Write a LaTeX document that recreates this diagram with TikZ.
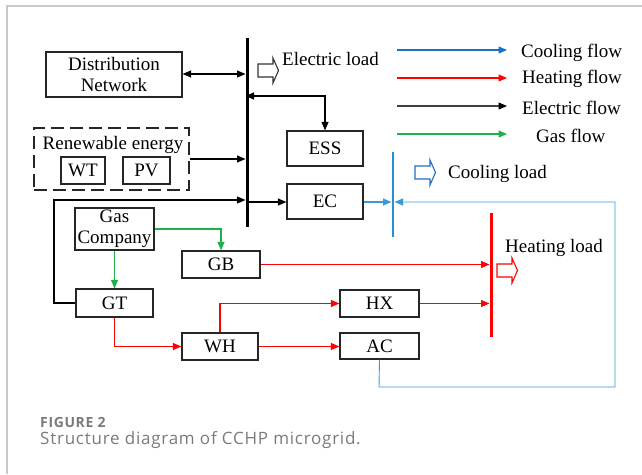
\documentclass[tikz,border=0pt]{standalone}
\usepackage{fontspec}
\setmainfont{Liberation Serif}
\newfontfamily\capfont[LetterSpace=4.5]{Open Sans}
\usetikzlibrary{arrows.meta}
\definecolor{cool}{HTML}{1B70C4}
\definecolor{coolbus}{HTML}{2490D8}
\definecolor{coolline}{HTML}{3A9AD9}
\definecolor{heat}{HTML}{FF0000}
\definecolor{gasc}{HTML}{1DB14B}
\definecolor{elec}{HTML}{404040}
\definecolor{capgray}{HTML}{7A7A7A}
\definecolor{framegray}{HTML}{C8C8C8}
\begin{document}
\begin{tikzpicture}[x=1pt,y=-1pt,
  txt/.style={font=\fontsize{19}{20.5}\selectfont},
  box/.style={draw=black!85, line width=1.2pt, inner sep=0pt, align=center, txt},
  lbl/.style={txt, inner sep=0pt, anchor=base west},
  arr/.style={-{Triangle[length=8.5pt,width=7pt]}, line width=1.1pt},
  dbl/.style={{Triangle[length=8.5pt,width=7pt]}-{Triangle[length=8.5pt,width=7pt]}, line width=1.1pt},
  loadarrow/.pic={\draw[line width=1.1pt] (0,-6.5) -- (15,-6.5) -- (15,-12.5) -- (20.5,0) -- (15,12.5) -- (15,6.5) -- (0,6.5) -- cycle;}
]
\useasboundingbox (0,0) rectangle (642,474);
\draw[framegray, line width=1.2pt] (7,474) -- (7,6) -- (642,6);

% boxes
\node[box, minimum width=136pt, minimum height=45pt] (dn) at (114,74.5) {Distribution\\Network};
\node[box, dash pattern=on 13pt off 6pt, minimum width=155pt, minimum height=62pt] (re) at (111.5,159) {};
\node[lbl, anchor=base] (retxt) at (113,149) {Renewable energy};
\node[box, minimum width=44pt, minimum height=27pt] (wt) at (83,170.5) {WT};
\node[box, minimum width=47pt, minimum height=27pt] (pv) at (146.5,170.5) {PV};
\node[box, minimum width=76pt, minimum height=35pt] (ess) at (325,148.5) {ESS};
\node[box, minimum width=76pt, minimum height=35pt] (ec) at (325,201.5) {EC};
\node[box, minimum width=79pt, minimum height=42pt] (gas) at (114.5,229) {Gas\\Company};
\node[box, minimum width=78pt, minimum height=27pt] (gb) at (221,264.5) {GB};
\node[box, minimum width=77pt, minimum height=28pt] (gt) at (114.5,303) {GT};
\node[box, minimum width=76pt, minimum height=27pt] (wh) at (220,346.5) {WH};
\node[box, minimum width=79pt, minimum height=27pt] (hx) at (379.5,303.5) {HX};
\node[box, minimum width=79pt, minimum height=26pt] (ac) at (379.5,346) {AC};

% buses
\draw[line width=3pt] (247,38) -- (247,227);
\draw[coolbus, line width=2.5pt] (393,152) -- (393,237);
\draw[heat, line width=3pt] (491,213) -- (491,337);
\coordinate (bdn) at (245.5,74);
\coordinate (bess) at (245.5,96);
\coordinate (bre) at (245.5,159);
\coordinate (bgt) at (245.5,200);
\coordinate (bec) at (248.5,202);
\coordinate (cec) at (391.5,202);
\coordinate (cac) at (394.5,202);
\coordinate (hgb) at (489.5,264.5);
\coordinate (hhx) at (489.5,303.5);

% electric connectors
\draw[dbl] (dn.east |- bdn) -- (bdn);
\draw[dbl] (bess) -| (ess.north);
\draw[arr] (re.east |- bre) -- (bre);
\draw[arr] (gt.west) -- (54,303) |- (bgt);
\draw[arr] (bec) -- (ec.west |- bec);

% gas
\draw[arr, color=gasc] (gas.east) -| (gb.north);
\draw[arr, color=gasc] (gas.south) -- (gt.north);

% heat
\draw[arr, color=heat] (gt.south) |- (wh.west);
\draw[arr, color=heat] (wh.north) |- (hx.west);
\draw[arr, color=heat] (wh.east) -- (ac.west |- wh.east);
\draw[arr, color=heat] (gb.east) -- (hgb);
\draw[arr, color=heat] (hx.east) -- (hhx);

% cooling
\draw[arr, color=coolline] (ec.east |- cec) -- (cec);
\draw[arr, color=coolline, line width=0.9pt] (ac.south) -- (379,387) -| (615,202) -- (cac);

% load arrows and labels
\pic[black!80] at (258,70.5) {loadarrow};
\pic[cool] at (415,172.5) {loadarrow};
\pic[heat] at (497,270.5) {loadarrow};
\node[lbl] (elload) at (282,65) {Electric load};
\node[lbl] (coload) at (448,178) {Cooling load};
\node[lbl] (heload) at (505,252) {Heating load};

% legend
\coordinate (l1a) at (397,50); \coordinate (l1b) at (507,50);
\coordinate (l2a) at (397,78); \coordinate (l2b) at (507,78);
\coordinate (l3a) at (397,106); \coordinate (l3b) at (507,106);
\coordinate (l4a) at (397,134); \coordinate (l4b) at (507,134);
\draw[arr, color=cool] (l1a) -- (l1b);
\draw[arr, color=heat] (l2a) -- (l2b);
\draw[line width=1.1pt, elec, -{Triangle[length=8.5pt,width=7pt,color=black]}] (l3a) -- (l3b);
\draw[arr, color=gasc] (l4a) -- (l4b);
\node[lbl] (lg1) at (521,57) {Cooling flow};
\node[lbl] (lg2) at (522,83) {Heating flow};
\node[lbl] (lg3) at (522,114) {Electric flow};
\node[lbl] (lg4) at (536,142) {Gas flow};

% caption
\node[inner sep=0pt, anchor=base west, text=capgray, font=\capfont\bfseries\fontsize{14}{16}\selectfont] (fig) at (40,427) {FIGURE 2};
\node[inner sep=0pt, anchor=base west, text=capgray, font=\capfont\fontsize{17}{19}\selectfont] (cap) at (40,444) {Structure diagram of CCHP microgrid.};
\end{tikzpicture}
\end{document}
